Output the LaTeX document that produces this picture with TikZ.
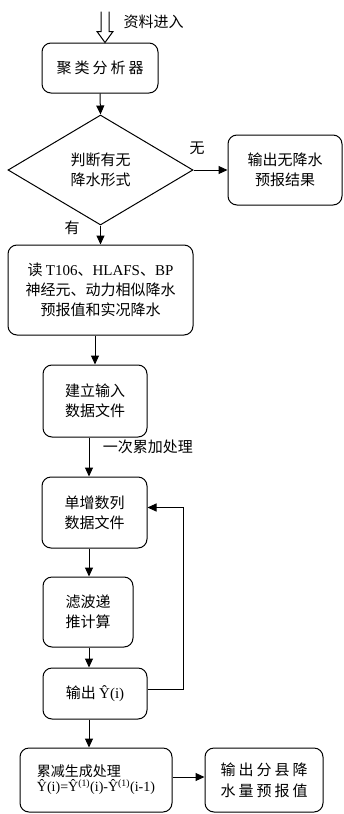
\documentclass[tikz,border=0pt]{standalone}
\usepackage{fontspec}
\setmainfont{Noto Sans CJK SC}
\newfontfamily\lat{Liberation Serif}
\newfontfamily\cjkwide[LetterSpace=20]{Noto Sans CJK SC}
\usetikzlibrary{shapes.geometric,arrows.meta}
\begin{document}
\begin{tikzpicture}[x=1pt, y=-1pt,
    font=\fontsize{15}{20}\selectfont,
    procbox/.style={draw, line width=1pt, rounded corners=9pt, align=center, inner sep=0pt},
    decision/.style={draw, line width=1pt, diamond, align=center, inner sep=0pt},
    arr/.style={line width=1pt, -{Triangle[length=9pt,width=8pt]}}]
    \useasboundingbox (0,0) rectangle (344,814);

    % Analyseur
    \node[procbox, minimum width=116, minimum height=50, font=\fontsize{15}{20}\cjkwide] (b1) at (100,68) {聚类分析器};

    % Entrée des données (flèche creuse)
    \coordinate (intip) at ([xshift=5pt]b1.north);
    \draw[line width=1pt] (intip) ++(-4,-31) -- ++(0,20) -- ++(-4,0) -- (intip)
        -- ++(8,-11) -- ++(-4,0) -- ++(0,-20);
    \node[right] (inlab) at (120,22) {资料进入};

    % Décision
    \node[decision, minimum width=185, minimum height=110] (dia) at (100.5,170) {判断有无\\降水形式};
    \node[procbox, minimum width=114, minimum height=70] (bno) at (285,170) {输出无降水\\预报结果};
    \node (nolab) at (197,148) {无};
    \node (yeslab) at (72,228) {有};

    % Lecture des prévisions
    \node[procbox, minimum width=185, minimum height=90] (b3) at (100.5,290)
        {读 {\lat T106}、{\lat HLAFS}、{\lat BP}\\神经元、动力相似降水\\预报值和实况降水};

    % Chaîne de traitement
    \node[procbox, minimum width=104, minimum height=72] (b4) at (95,401) {建立输入\\数据文件};
    \node[procbox, minimum width=105, minimum height=71] (b5) at (94.5,512.5) {单增数列\\数据文件};
    \node[procbox, minimum width=90, minimum height=70] (b6) at (88,612) {滤波递\\推计算};
    \node[procbox, minimum width=104, minimum height=51] (b7) at (95,693.5) {输出 {\lat Ŷ(i)}};

    % Sortie finale
    \node[procbox, minimum width=152, minimum height=64, align=left, font=\fontsize{14}{15}\selectfont] (b8) at (96,780)
        {累减生成处理\\{\lat Ŷ(i)=Ŷ\textsuperscript{(1)}(i)-Ŷ\textsuperscript{(1)}(i-1)}};
    \node[procbox, minimum width=118, minimum height=64, font=\fontsize{15}{21}\cjkwide] (b9) at (264,780) {输出分县降\\水量预报值};

    % Flèches
    \coordinate (spine) at (89,0);
    \draw[arr] (b1.south) -- (dia.north);
    \draw[arr] (dia.east) -- (bno.west);
    \draw[arr] (dia.south) -- (b3.north);
    \draw[arr] (b3.south -| b4) -- (b4.north);
    \draw[arr] (b4.south -| spine) -- (b5.north -| spine)
        node[pos=0.25, right, xshift=10pt] {一次累加处理};
    \draw[arr] (b5.south -| spine) -- (b6.north -| spine);
    \draw[arr] (b6.south -| spine) -- (b7.north -| spine);
    \draw[arr] (b7.south -| spine) -- (b8.north -| spine);

    % Boucle de retour
    \draw[arr] ([yshift=4pt]b7.east) -- ++(36,0) |- ([yshift=5pt]b5.east);
    \draw[arr] ([yshift=3pt]b8.east) -- ([yshift=3pt]b9.west);
\end{tikzpicture}
\end{document}
